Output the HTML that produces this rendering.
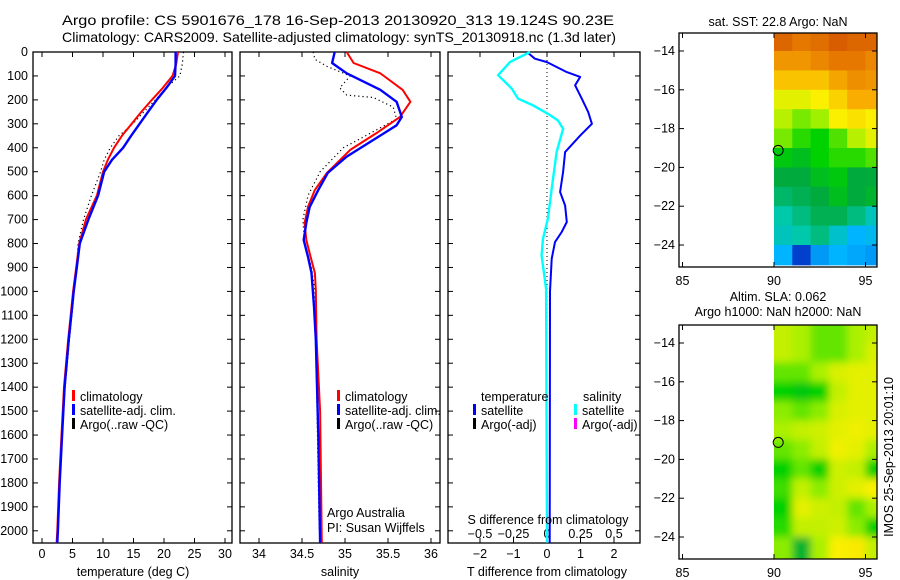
<!DOCTYPE html>
<html><head><meta charset="utf-8"><style>
body{margin:0;background:#fff}
svg{display:block;font-family:"Liberation Sans",sans-serif;font-size:12.5px}
</style></head><body>
<svg id="s" width="900" height="580" xmlns="http://www.w3.org/2000/svg">
<text x="62" y="25" textLength="552" lengthAdjust="spacingAndGlyphs" font-size="14">Argo profile: CS 5901676_178 16-Sep-2013 20130920_313 19.124S 90.23E</text>
<text x="62" y="42" textLength="554" lengthAdjust="spacingAndGlyphs" font-size="14">Climatology: CARS2009. Satellite-adjusted climatology: synTS_20130918.nc (1.3d later)</text>
<g id="g"></g>
</svg>
<script>
// ---- data ----
const tDepth=[0,50,100,150,200,250,300,350,400,450,500,600,700,800,900,1000,1100,1200,1400,1600,1800,2000,2050];
const tClim=[22.3,22.0,21.4,19.8,18.0,16.3,14.7,13.1,11.8,10.8,10.0,9.0,7.2,6.1,5.6,5.1,4.7,4.3,3.6,3.2,2.8,2.5,2.4];
const tSat=[21.9,21.9,21.8,20.4,18.8,17.4,16.0,14.6,13.3,11.5,10.2,9.2,7.6,6.2,5.7,5.2,4.8,4.4,3.7,3.3,2.9,2.6,2.5];
const tArgo=[23.2,23.0,22.6,20.3,18.6,16.7,14.9,12.6,11.2,10.2,9.6,8.1,6.8,5.9,5.7,5.3,4.9,4.5,3.8,3.3,2.9,2.6];
const sDepth=[0,46,89,158,208,271,338,409,505,576,647,714,785,856,923,994,1200,1500,2050];
const sClim=[35.02,35.1,35.41,35.67,35.76,35.64,35.37,35.06,34.79,34.65,34.57,34.53,34.55,34.6,34.65,34.66,34.67,34.71,34.73];
const sSatDepth=[0,46,89,158,208,271,306,367,437,505,576,647,714,785,856,923,1063,1200,1600,2050];
const sSat=[34.88,34.85,35.02,35.41,35.6,35.66,35.6,35.33,35.02,34.8,34.69,34.59,34.55,34.52,34.57,34.61,34.64,34.66,34.69,34.71];
const sArgoDepth=[0,30,60,100,150,180,190,230,280,400,500,600,700,800,900,1000,1400,2000];
const sArgo=[34.63,34.65,34.79,35.06,34.94,35.02,35.33,35.56,35.6,34.98,34.71,34.57,34.51,34.53,34.61,34.65,34.67,34.7];
const dDepth=[0,28,42,84,104,139,195,251,300,349,418,501,585,641,710,752,794,864,1000,2050];
const dT=[-0.6,-0.36,0,0.59,0.99,0.84,1.04,1.23,1.34,0.99,0.54,0.48,0.39,0.54,0.59,0.44,0.24,0.14,0.09,0.08];
const dSDepth=[0,42,97,153,195,223,258,286,321,418,571,696,780,850,989,2050];
const dS=[-0.127,-0.276,-0.365,-0.263,-0.216,-0.104,0.007,0.082,0.12,0.072,0.035,0.007,-0.03,-0.04,-0.007,0];
const depthTicks=[0,100,200,300,400,500,600,700,800,900,1000,1100,1200,1300,1400,1500,1600,1700,1800,1900,2000];
const tTicks=[0,5,10,15,20,25,30];
const sTicks=[34,34.5,35,35.5,36];
const dTTicks=[-2,-1,0,1,2];
const dSTicks=[-0.5,-0.25,0,0.25,0.5];
const lonTicks=[85,90,95];
const latTicks=[-14,-16,-18,-20,-22,-24];
const gridLon=[90,91,92,93,94,95];
const gridLat=[-13,-14,-15,-16,-17,-18,-19,-20,-21,-22,-23,-24];
const sst=[
[0.92,0.9,0.91,0.93,0.92,0.92],[0.86,0.86,0.88,0.9,0.9,0.88],[0.8,0.8,0.8,0.84,0.87,0.86],
[0.72,0.72,0.74,0.78,0.83,0.83],[0.68,0.64,0.66,0.74,0.76,0.74],[0.64,0.6,0.58,0.62,0.68,0.72],
[0.56,0.54,0.58,0.6,0.6,0.62],[0.5,0.5,0.54,0.56,0.5,0.5],[0.46,0.48,0.5,0.54,0.5,0.52],
[0.4,0.44,0.48,0.48,0.44,0.38],[0.38,0.4,0.44,0.36,0.3,0.32],[0.3,0.12,0.26,0.3,0.28,0.26]];
const sla=[
[0.69,0.67,0.63,0.63,0.67,0.69],[0.69,0.67,0.63,0.63,0.67,0.71],[0.63,0.63,0.67,0.71,0.72,0.72],
[0.58,0.56,0.58,0.69,0.72,0.72],[0.65,0.63,0.65,0.71,0.72,0.72],[0.67,0.69,0.7,0.72,0.73,0.72],
[0.63,0.65,0.69,0.73,0.72,0.67],[0.58,0.63,0.58,0.7,0.69,0.58],[0.61,0.69,0.65,0.7,0.72,0.74],
[0.58,0.72,0.7,0.69,0.63,0.67],[0.6,0.69,0.69,0.7,0.65,0.58],[0.65,0.52,0.67,0.74,0.75,0.69]];
const argoLon=90.23, argoLat=-19.124;

// ---- helpers ----
const NS='http://www.w3.org/2000/svg';
const G=document.getElementById('g');
function el(tag,attrs,parent){const e=document.createElementNS(NS,tag);for(const k in attrs)e.setAttribute(k,attrs[k]);(parent||G).appendChild(e);return e;}
function txt(x,y,s,anchor,parent){const e=el('text',{x:x,y:y,'text-anchor':anchor||'start'},parent);e.textContent=s;return e;}
const yD=d=>52+d*0.2394;
const P1={l:33,r:232}, P2={l:240,r:440}, P3={l:448,r:640};
const xT=v=>42+v*6.1, xS=v=>259+(v-34)*86, xDT=v=>547+v*33.5, xDS=v=>547+v*134;
const TOP=52, BOT=543;

function frame(P,name){
  const r=el('rect',{x:P.l,y:TOP,width:P.r-P.l,height:BOT-TOP,fill:'none',stroke:'#000','stroke-width':1.3});
  
  
  depthTicks.forEach(d=>{el('line',{x1:P.l,x2:P.l+5,y1:yD(d),y2:yD(d),stroke:'#000'});el('line',{x1:P.r,x2:P.r-5,y1:yD(d),y2:yD(d),stroke:'#000'});});
}
function xticks(ticks,f,y,name){
  ticks.forEach(v=>{const x=f(v);el('line',{x1:x,x2:x,y1:TOP,y2:TOP+5,stroke:'#000'});el('line',{x1:x,x2:x,y1:BOT,y2:BOT-5,stroke:'#000'});
    const t=txt(x,y,String(v).replace('-','\u2212'),'middle');
    
    });
}
function line(xs,ds,fx,color,w,name,dash){
  const pts=xs.map((v,i)=>fx(v).toFixed(1)+','+yD(ds[i]).toFixed(1)).join(' ');
  const a={points:pts,fill:'none',stroke:color,'stroke-width':w,'stroke-linejoin':'round'};
  if(dash)a['stroke-dasharray']=dash;
  const p=el('polyline',a);
  
  
}
function legendItem(x,y,color,label,name){
  el('rect',{x:x,y:y-11,width:3,height:11,fill:color});
  const t=txt(x+8,y,label);
  
  
}

// ---- panel 1: temperature ----
frame(P1,'temperature-panel');
depthTicks.forEach(d=>{const t=txt(28,yD(d)+4,String(d),'end');
  
  });
xticks(tTicks,xT,558,'temperature-tick-label');
line(tArgo,tDepth.slice(0,tArgo.length),xT,'#000',1.2,'temperature-argo-line','1.2,3');
line(tClim,tDepth,xT,'#f00',2,'temperature-climatology-line');
line(tSat,tDepth,xT,'#00f',2.4,'temperature-satellite-line');
legendItem(72,401,'#f00','climatology','legend-climatology');
legendItem(72,415,'#00f','satellite-adj. clim.','legend-satellite');
legendItem(72,429,'#000','Argo(..raw -QC)','legend-argo');
let t=txt(133,576,'temperature (deg C)','middle');



// ---- panel 2: salinity ----
frame(P2,'salinity-panel');
xticks(sTicks,xS,558,'salinity-tick-label');
line(sArgo,sArgoDepth,xS,'#000',1.2,'salinity-argo-line','1.2,3');
line(sClim,sDepth,xS,'#f00',2,'salinity-climatology-line');
line(sSat,sSatDepth,xS,'#00f',2.4,'salinity-satellite-line');
legendItem(337,401,'#f00','climatology','legend-climatology-2');
legendItem(337,415,'#00f','satellite-adj. clim.','legend-satellite-2');
legendItem(337,429,'#000','Argo(..raw -QC)','legend-argo-2');
t=txt(327,517,'Argo Australia');


t=txt(327,532,'PI: Susan Wijffels');


t=txt(340,576,'salinity','middle');



// ---- panel 3: differences ----
frame(P3,'difference-panel');
xticks(dTTicks,xDT,558,'t-difference-tick-label');
dSTicks.forEach(v=>{const tt=txt(xDS(v),538,String(v).replace('-','\u2212'),'middle');
  
  });
el('line',{x1:xDT(0),x2:xDT(0),y1:TOP,y2:BOT,stroke:'#000','stroke-dasharray':'1,3'});
line(dT,dDepth,xDT,'#00f',2,'t-difference-line');
line(dS,dSDepth,xDS,'#0ff',2.4,'s-difference-line');
t=txt(481,401,'temperature');


t=txt(583,401,'salinity');


legendItem(473,415,'#00f','satellite','legend-t-satellite');
legendItem(473,429,'#000','Argo(-adj)','legend-t-argo');
legendItem(574,415,'#0ff','satellite','legend-s-satellite');
legendItem(574,429,'#f0f','Argo(-adj)','legend-s-argo');
t=txt(548,524,'S difference from climatology','middle');


t=txt(547,576,'T difference from climatology','middle');



// ---- maps ----
const stops=[[0,[0,0,140]],[0.15,[0,80,220]],[0.3,[0,180,255]],[0.4,[0,200,170]],[0.5,[0,170,60]],[0.58,[0,210,0]],[0.66,[160,240,0]],[0.74,[250,240,0]],[0.82,[250,180,0]],[0.9,[230,120,0]],[1,[180,30,0]]];
function cmap(v){for(let i=1;i<stops.length;i++){if(v<=stops[i][0]){const a=stops[i-1],b=stops[i],f=(v-a[0])/(b[0]-a[0]);return 'rgb('+a[1].map((c,k)=>Math.round(c+(b[1][k]-c)*f)).join(',')+')';}}return 'rgb(180,30,0)';}
function drawMap(top,grid,name,blur){
  const L=679,R=877,B=top+234;
  const xL=lon=>774+(lon-90)*18.3, yL=lat=>top+18+(-14-lat)*19.4;
  const id='clip'+top;
  const cp=el('clipPath',{id:id});el('rect',{x:xL(90),y:top,width:R-xL(90),height:B-top},cp);
  const gg=el('g',{'clip-path':'url(#'+id+')'});
  
  
  const inner=el('g',blur?{filter:'url(#blur)'}:{},gg);
  const nr=grid.length,nc=grid[0].length;
  grid.forEach((row,i)=>row.forEach((v,j)=>{
    const ex=blur?12:0;
    const x0=xL(gridLon[j])-(j===0?ex:0), y0=yL(gridLat[i])-(i===0?ex:0);
    const w=18.3+1+(j===0?ex:0)+(j===nc-1?ex:0), h=19.4+1+(i===0?ex:0)+(i===nr-1?ex:0);
    const c=el('rect',{x:x0,y:y0,width:w,height:h,fill:cmap(v)},inner);
    
    
  }));
  const f=el('rect',{x:L,y:top,width:R-L,height:B-top,fill:'none',stroke:'#000','stroke-width':1.3});
  
  
  lonTicks.forEach(v=>{const x=xL(v);el('line',{x1:x,x2:x,y1:top,y2:top+5,stroke:'#000'});el('line',{x1:x,x2:x,y1:B,y2:B-5,stroke:'#000'});
    const tt=txt(x,B+18,String(v),'middle');
    
    });
  latTicks.forEach(v=>{const y=yL(v);el('line',{x1:L,x2:L+5,y1:y,y2:y,stroke:'#000'});el('line',{x1:R,x2:R-5,y1:y,y2:y,stroke:'#000'});
    const tt=txt(675,y+4,String(v).replace('-','\u2212'),'end');
    
    });
  const c=el('circle',{cx:xL(argoLon),cy:yL(argoLat),r:5,fill:'none',stroke:'#000','stroke-width':1});
  
  
}
const defs=el('defs',{});const flt=el('filter',{id:'blur',x:'-20%',y:'-20%',width:'140%',height:'140%'},defs);el('feGaussianBlur',{stdDeviation:4},flt);
drawMap(33,sst,'sst-map',false);
drawMap(325,sla,'sla-map',true);
t=txt(778,26,'sat. SST: 22.8 Argo: NaN','middle');


t=txt(778,301,'Altim. SLA: 0.062','middle');


t=txt(778,316,'Argo h1000: NaN h2000: NaN','middle');


t=txt(0,0,'IMOS 25-Sep-2013 20:01:10','middle');
t.setAttribute('transform','translate(893,457) rotate(-90)');


</script>
</body></html>
